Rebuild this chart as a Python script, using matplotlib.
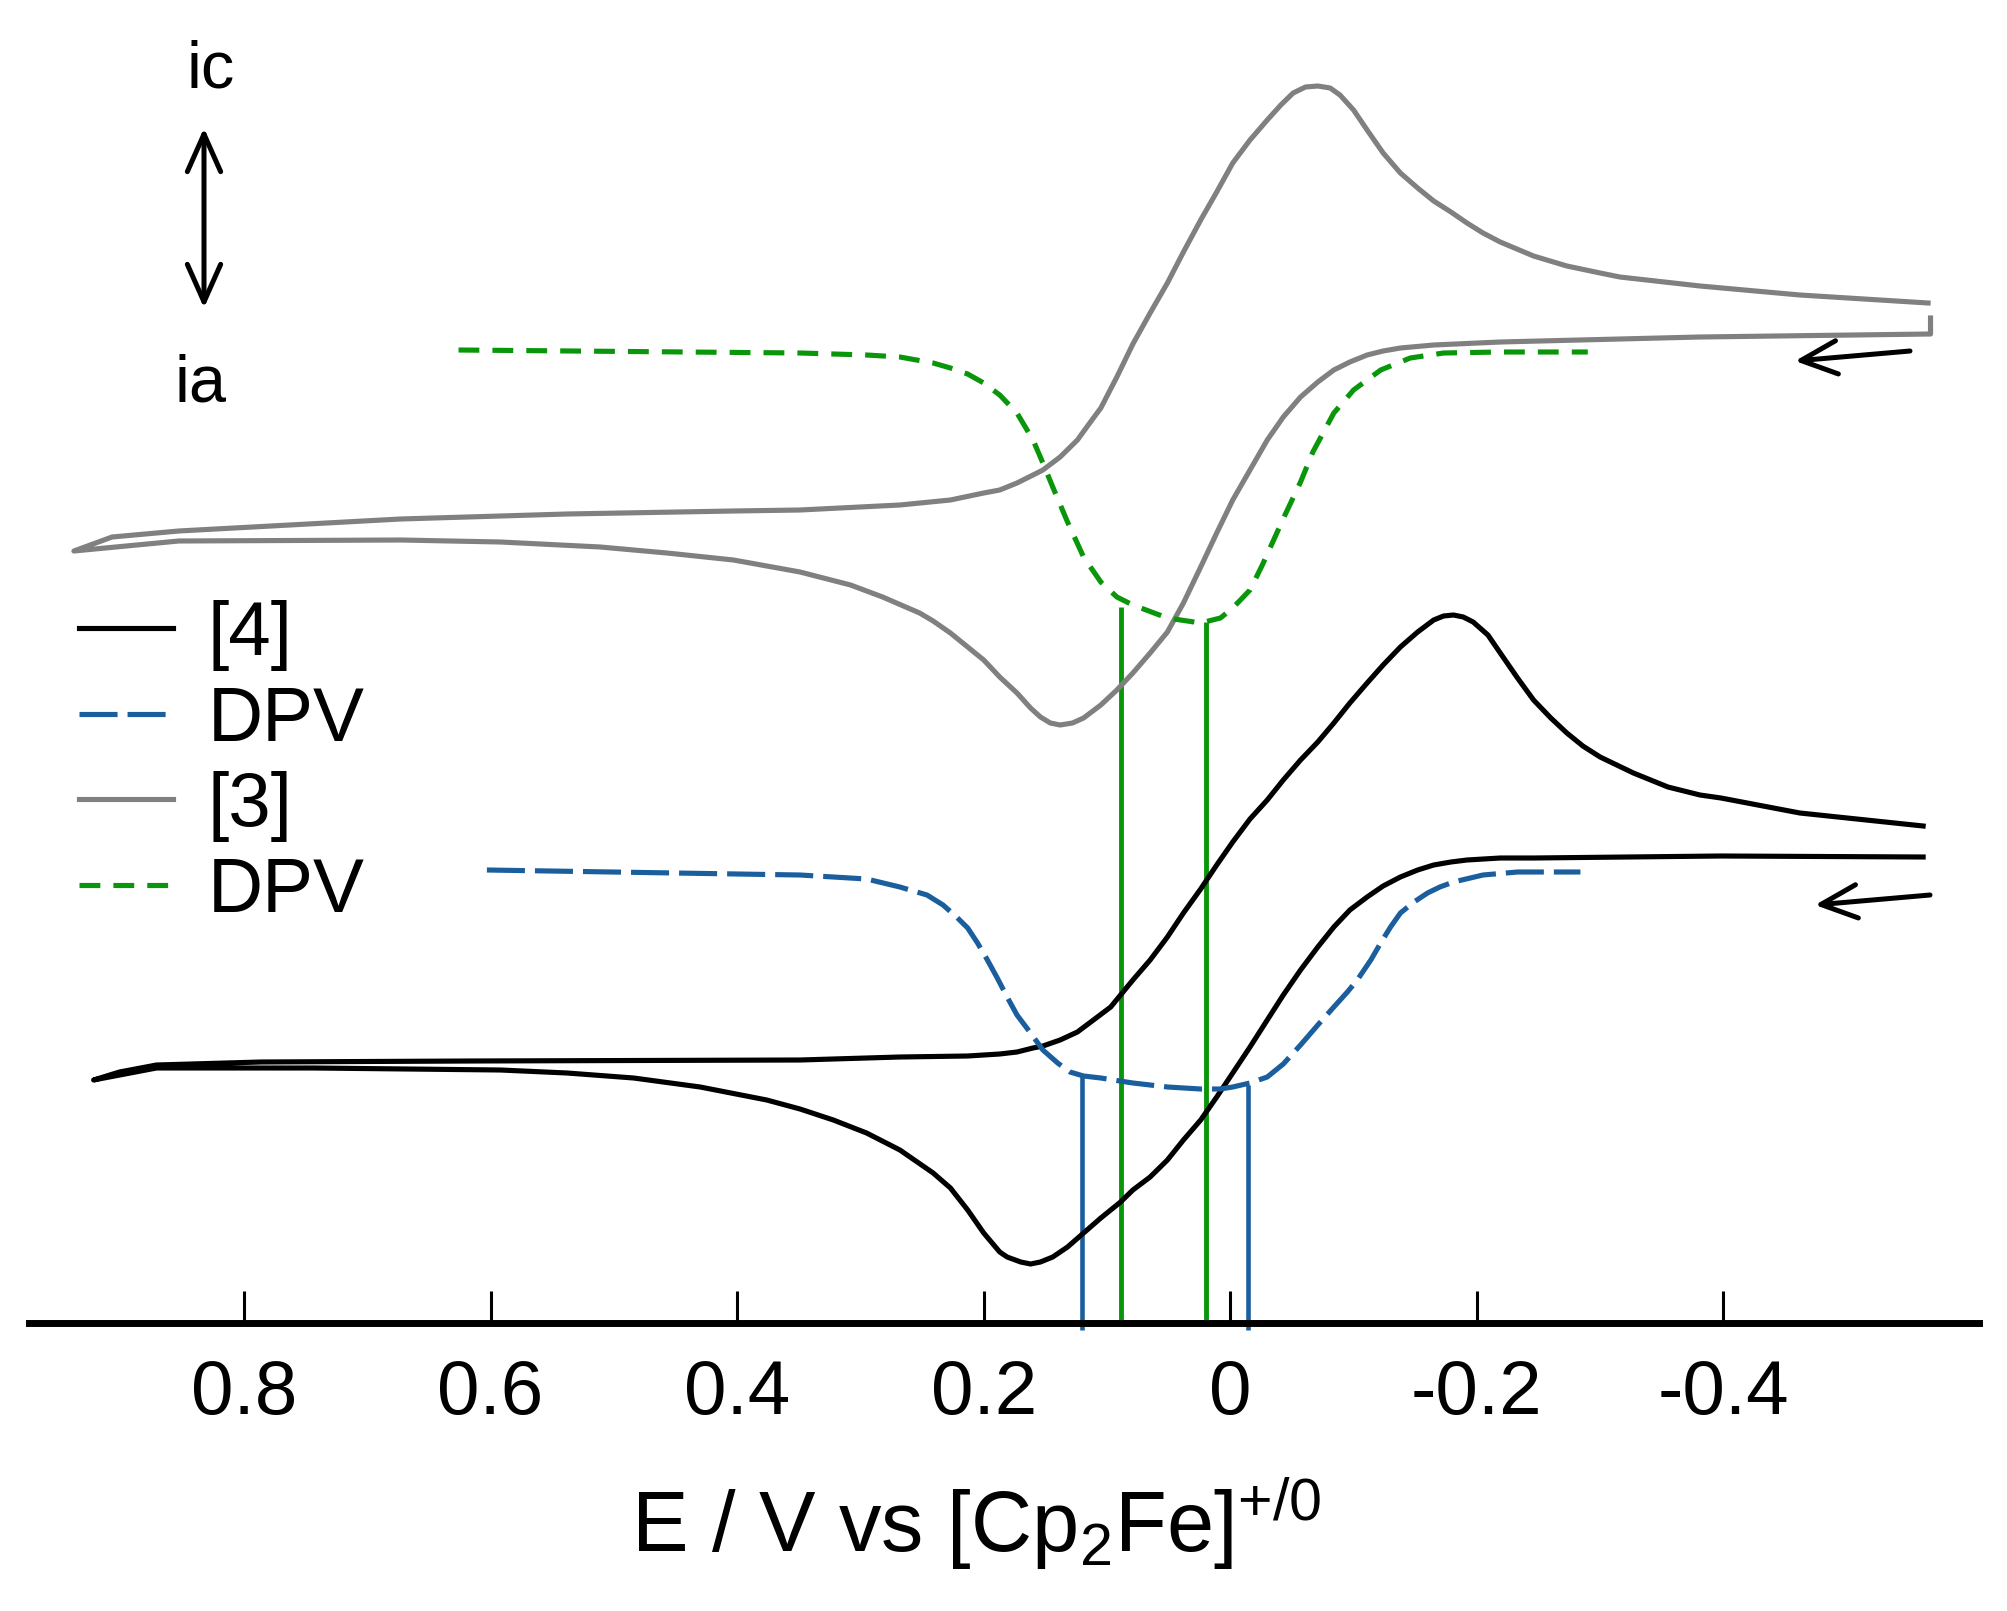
import matplotlib
matplotlib.use("Agg")
import matplotlib.pyplot as plt

plt.rcParams['font.family'] = ['Liberation Sans', 'DejaVu Sans']
plt.rcParams['mathtext.fontset'] = 'custom'
plt.rcParams['mathtext.rm'] = 'Liberation Sans'
plt.rcParams['mathtext.default'] = 'regular'
plt.rcParams['lines.scale_dashes'] = False

# ---------------- data (E / V vs Fc+/0, current in arbitrary offset units) ----------------
# CV of [3]: from right end along the anodic branch to the left, then cathodic branch back
cv3_E = [-0.568, -0.568, -0.381, -0.316, -0.219, -0.165, -0.138, -0.124, -0.111, -0.097,
         -0.084, -0.071, -0.057, -0.043, -0.030, -0.016, -0.002, 0.011, 0.024, 0.038,
         0.051, 0.065, 0.079, 0.092, 0.105, 0.119, 0.128, 0.138, 0.146, 0.154,
         0.162, 0.173, 0.187, 0.200, 0.213, 0.227, 0.241, 0.252, 0.282, 0.308,
         0.349, 0.403, 0.457, 0.511, 0.592, 0.673, 0.853, 0.938,
         0.907, 0.853, 0.673, 0.538, 0.403, 0.349, 0.268, 0.227, 0.200, 0.187,
         0.173, 0.160, 0.152, 0.138, 0.124, 0.114, 0.105, 0.092, 0.079, 0.065,
         0.051, 0.038, 0.024, 0.011, -0.002, -0.016, -0.030, -0.041, -0.051, -0.061,
         -0.071, -0.081, -0.089, -0.100, -0.111, -0.124, -0.138, -0.152, -0.165, -0.179,
         -0.192, -0.205, -0.219, -0.246, -0.273, -0.300, -0.316, -0.381, -0.462, -0.566]
cv3_i = [10.05, 9.89, 9.86, 9.84, 9.81, 9.78, 9.75, 9.72, 9.68, 9.61,
         9.53, 9.41, 9.26, 9.06, 8.83, 8.53, 8.23, 7.90, 7.56, 7.20,
         6.91, 6.70, 6.50, 6.33, 6.18, 6.05, 6.00, 5.98, 6.00, 6.06,
         6.15, 6.30, 6.46, 6.63, 6.76, 6.90, 7.02, 7.10, 7.26, 7.38,
         7.51, 7.63, 7.70, 7.76, 7.81, 7.83, 7.82, 7.72,
         7.86, 7.92, 8.04, 8.09, 8.12, 8.13, 8.18, 8.23, 8.30, 8.33,
         8.40, 8.48, 8.53, 8.66, 8.83, 9.00, 9.15, 9.46, 9.79, 10.10,
         10.40, 10.71, 11.03, 11.31, 11.60, 11.83, 12.03, 12.18, 12.30, 12.36,
         12.37, 12.35, 12.28, 12.13, 11.93, 11.70, 11.50, 11.35, 11.22, 11.11,
         11.00, 10.90, 10.81, 10.67, 10.57, 10.50, 10.46, 10.37, 10.28, 10.20]

# DPV of [3]
dpv3_E = [0.626, 0.349, 0.295, 0.268, 0.241, 0.227, 0.213, 0.200, 0.187, 0.173,
          0.160, 0.152, 0.144, 0.132, 0.119, 0.105, 0.092, 0.079, 0.051, 0.024,
          0.008, -0.002, -0.016, -0.026, -0.044, -0.057, -0.067, -0.084, -0.100, -0.122,
          -0.146, -0.173, -0.219, -0.290]
dpv3_i = [9.73, 9.70, 9.68, 9.66, 9.60, 9.55, 9.49, 9.40, 9.28, 9.10,
          8.83, 8.60, 8.36, 8.01, 7.66, 7.41, 7.26, 7.18, 7.05, 7.00,
          7.05, 7.15, 7.33, 7.58, 8.07, 8.41, 8.71, 9.10, 9.33, 9.53,
          9.65, 9.70, 9.71, 9.71]
dpv3_peaks_E = [0.0887, 0.0197]
dpv3_peaks_i = [7.16, 7.01]

# CV of [4]
cv4_E = [-0.562, -0.398, -0.246, -0.219, -0.192, -0.179, -0.165, -0.152, -0.138, -0.124,
         -0.111, -0.097, -0.084, -0.071, -0.057, -0.043, -0.030, -0.016, -0.002, 0.011,
         0.024, 0.038, 0.051, 0.065, 0.079, 0.089, 0.105, 0.119, 0.132, 0.144,
         0.154, 0.162, 0.170, 0.181, 0.187, 0.200, 0.213, 0.227, 0.241, 0.268,
         0.295, 0.322, 0.349, 0.376, 0.430, 0.484, 0.538, 0.592, 0.743, 0.871,
         0.922,
         0.901, 0.871, 0.786, 0.616, 0.349, 0.268, 0.213, 0.187, 0.173, 0.160,
         0.152, 0.138, 0.124, 0.111, 0.097, 0.089, 0.079, 0.065, 0.051, 0.038,
         0.024, 0.011, -0.002, -0.016, -0.030, -0.043, -0.057, -0.071, -0.084, -0.097,
         -0.111, -0.124, -0.138, -0.152, -0.165, -0.173, -0.181, -0.189, -0.197, -0.209,
         -0.219, -0.233, -0.246, -0.260, -0.273, -0.286, -0.300, -0.327, -0.355, -0.381,
         -0.398, -0.462, -0.562]
cv4_i = [4.66, 4.67, 4.65, 4.65, 4.63, 4.61, 4.58, 4.53, 4.46, 4.37,
         4.26, 4.13, 3.96, 3.76, 3.53, 3.28, 3.03, 2.76, 2.50, 2.26,
         2.03, 1.83, 1.63, 1.46, 1.33, 1.21, 1.05, 0.90, 0.76, 0.66,
         0.61, 0.59, 0.61, 0.66, 0.71, 0.90, 1.13, 1.35, 1.50, 1.73,
         1.90, 2.03, 2.14, 2.23, 2.36, 2.45, 2.50, 2.53, 2.55, 2.55,
         2.43,
         2.51, 2.58, 2.61, 2.62, 2.63, 2.66, 2.67, 2.69, 2.71, 2.75,
         2.77, 2.83, 2.91, 3.03, 3.16, 3.28, 3.43, 3.63, 3.86, 4.10,
         4.34, 4.58, 4.81, 5.04, 5.23, 5.43, 5.63, 5.81, 6.00, 6.20,
         6.40, 6.58, 6.76, 6.91, 7.03, 7.07, 7.08, 7.06, 7.01, 6.88,
         6.70, 6.45, 6.23, 6.05, 5.90, 5.77, 5.66, 5.50, 5.36, 5.28,
         5.25, 5.10, 4.97]

# DPV of [4]
dpv4_E = [0.603, 0.349, 0.322, 0.295, 0.268, 0.246, 0.233, 0.222, 0.213, 0.205,
          0.197, 0.189, 0.181, 0.173, 0.162, 0.152, 0.140, 0.130, 0.119, 0.105,
          0.079, 0.051, 0.024, 0.008, -0.002, -0.016, -0.030, -0.043, -0.057, -0.071,
          -0.084, -0.095, -0.103, -0.114, -0.122, -0.130, -0.138, -0.149, -0.160, -0.170,
          -0.181, -0.205, -0.233, -0.284]
dpv4_i = [4.53, 4.48, 4.46, 4.44, 4.36, 4.28, 4.18, 4.06, 3.95, 3.80,
          3.63, 3.45, 3.26, 3.08, 2.90, 2.73, 2.60, 2.51, 2.47, 2.45,
          2.40, 2.36, 2.34, 2.34, 2.36, 2.40, 2.46, 2.59, 2.78, 2.98,
          3.16, 3.31, 3.43, 3.63, 3.80, 3.96, 4.10, 4.21, 4.30, 4.36,
          4.41, 4.48, 4.51, 4.51]
dpv4_peaks_E = [0.120, -0.0144]
dpv4_peaks_i = [2.48, 2.38]

tick_vals = [0.8, 0.6, 0.4, 0.2, 0.0, -0.2, -0.4]
tick_labels = ["0.8", "0.6", "0.4", "0.2", "0", "-0.2", "-0.4"]
legend_labels = ["[4]", "DPV", "[3]", "DPV"]

# ---------------- styling ----------------
C_BLACK = "#000000"
C_GRAY = "#808080"
C_BLUE = "#1a5e9e"
C_GREEN = "#0a960a"
LW = 3.7

W, H = 2008, 1611
fig = plt.figure(figsize=(W / 100, H / 100), dpi=100)
ax_left, ax_right, ax_bottom = 29.5, 1978.6, 1323.0
ax = fig.add_axes([ax_left / W, 1 - ax_bottom / H, (ax_right - ax_left) / W, ax_bottom / H])
ax.set_xlim(0.974, -0.607)
ax.set_ylim(0, 13.23)

l4, = ax.plot(cv4_E, cv4_i, color=C_BLACK, lw=LW, solid_joinstyle='round')
d4, = ax.plot(dpv4_E, dpv4_i, color=C_BLUE, lw=LW, linestyle=(0, (27.4, 7.2)))
l3, = ax.plot(cv3_E, cv3_i, color=C_GRAY, lw=LW, solid_joinstyle='round')
d3, = ax.plot(dpv3_E, dpv3_i, color=C_GREEN, lw=LW, linestyle=(0, (15.0, 9.4)))

ax.vlines(dpv4_peaks_E, -0.07, dpv4_peaks_i, color=C_BLUE, lw=3.3, clip_on=False, zorder=1)
ax.vlines(dpv3_peaks_E, -0.02, dpv3_peaks_i, color=C_GREEN, lw=3.5, clip_on=False, zorder=1)

for s in ['left', 'right', 'top']:
    ax.spines[s].set_visible(False)
ax.spines['bottom'].set_linewidth(5)
ax.set_yticks([])
ax.set_xticks(tick_vals)
ax.set_xticklabels(tick_labels)
ax.tick_params(axis='x', direction='in', length=23, width=2.2, pad=26, labelsize=55)

fig.text(631 / W, 1 - 1552 / H, r"E / V vs [Cp$_2$Fe]$^{+/0}$", fontsize=61,
         ha='left', va='baseline')

ax.legend([l4, d4, l3, d3], legend_labels, loc='upper left',
          bbox_to_anchor=(79 / W, 1 - 600 / H), bbox_transform=fig.transFigure,
          frameon=False, fontsize=55, handlelength=1.23, handletextpad=0.45,
          labelspacing=0.19, borderpad=0, borderaxespad=0)

# current direction indicator
def fig_pt(px, py):
    return (px / W, 1 - py / H)

ax.annotate('', xy=fig_pt(204, 128), xytext=fig_pt(204, 308), xycoords='figure fraction',
            arrowprops=dict(arrowstyle='<->, head_length=2.7, head_width=1.2', lw=3.6,
                            color='black', mutation_scale=10, shrinkA=0, shrinkB=0))
fig.text(211 / W, 1 - 88 / H, "ic", fontsize=48, ha='center', va='baseline')
fig.text(201 / W, 1 - 402 / H, "ia", fontsize=48, ha='center', va='baseline')

# scan direction arrows
for tail, head in [((1910, 351), (1795, 361)), ((1930, 895), (1815, 905))]:
    ax.annotate('', xy=fig_pt(*head), xytext=fig_pt(*tail), xycoords='figure fraction',
                arrowprops=dict(arrowstyle='->, head_length=2.6, head_width=1.2', lw=3.6,
                                color='black', mutation_scale=10, shrinkA=0, shrinkB=0))

fig.savefig("out.png", dpi=100)
